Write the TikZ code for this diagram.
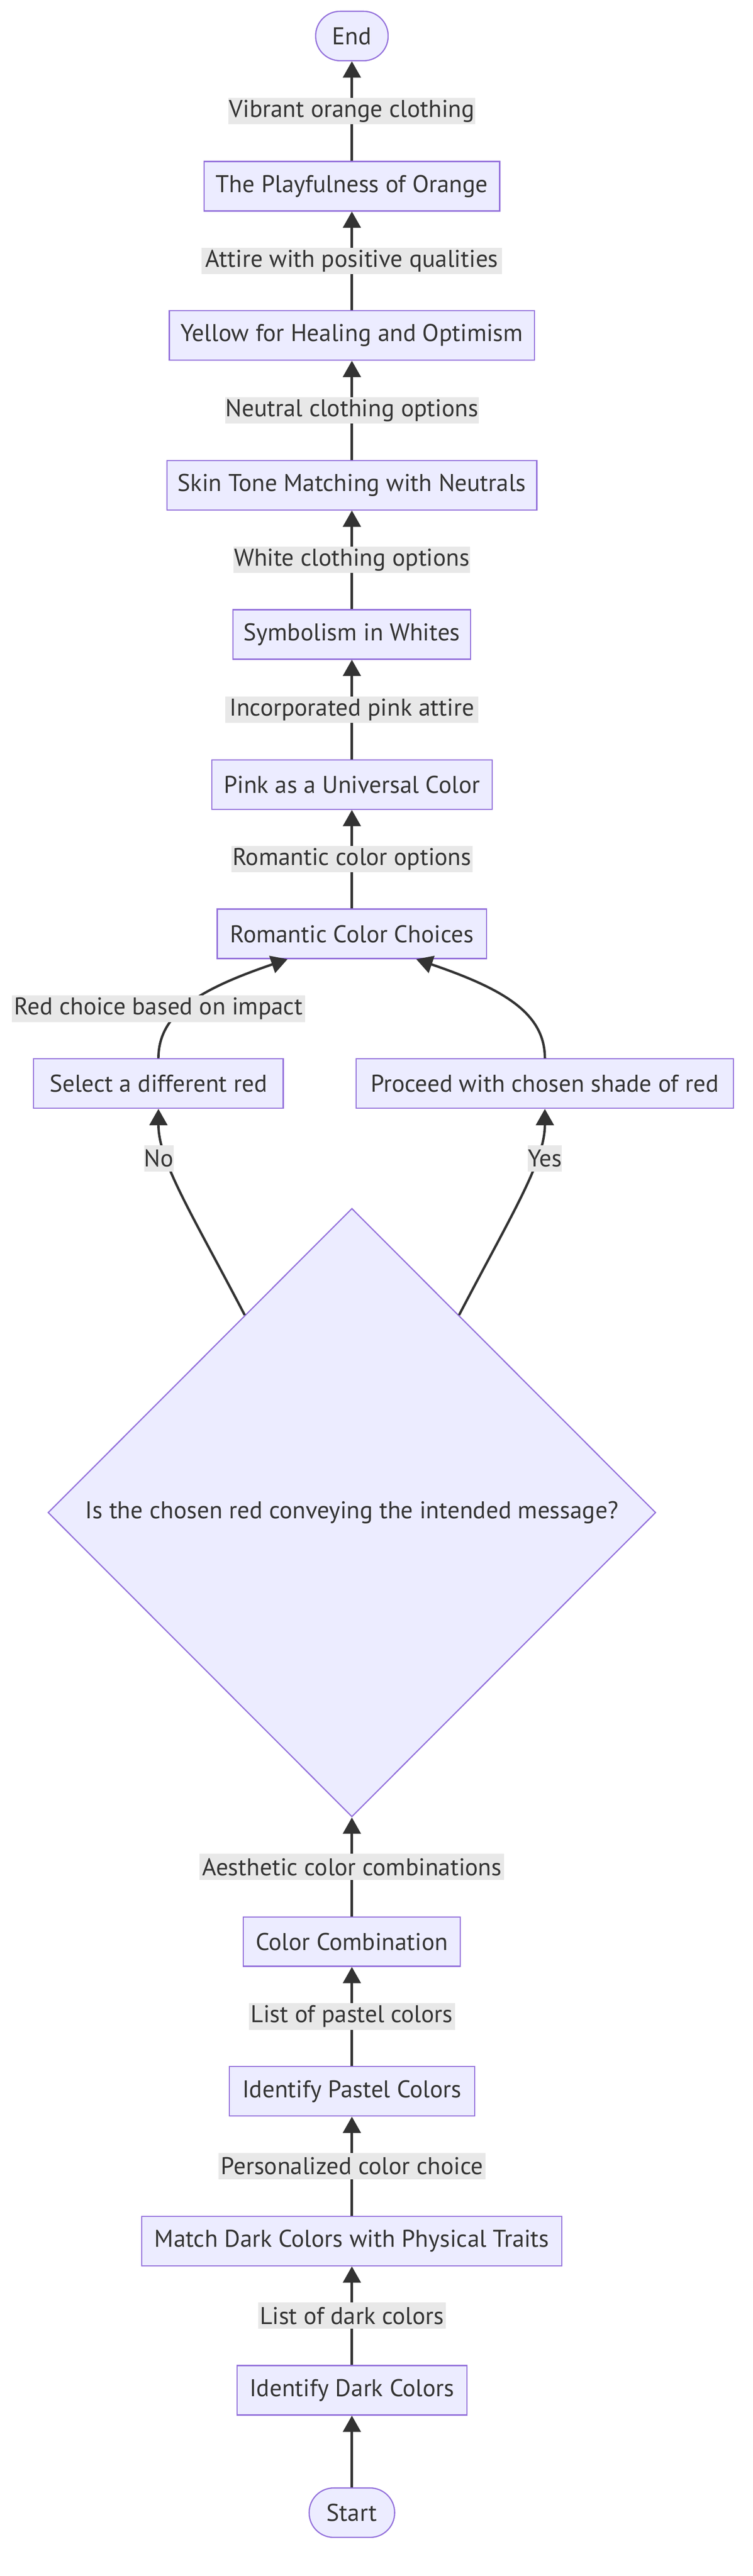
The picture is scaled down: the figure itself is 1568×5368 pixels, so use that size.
\documentclass[tikz,border=0pt]{standalone}
\usepackage{fontspec}
\setmainfont{PT Sans}
\usetikzlibrary{arrows.meta,shapes.geometric,calc}
\definecolor{nodefill}{HTML}{ECECFF}
\definecolor{nodeline}{HTML}{9370DB}
\definecolor{edgecol}{HTML}{333333}
\definecolor{labelbg}{HTML}{E8E8E8}
\definecolor{txtcol}{HTML}{333333}
\begin{document}
\begin{tikzpicture}[x=1pt,y=-1pt,
  every node/.style={font=\fontsize{50.5}{60}\selectfont, text=txtcol},
  box/.style={draw=nodeline, fill=nodefill, line width=2.5pt, minimum height=103pt, inner sep=0pt},
  term/.style={box, rounded corners=51pt},
  elabel/.style={fill=labelbg, inner xsep=0pt, inner ysep=0pt, minimum height=55pt},
  flow/.style={draw=edgecol, line width=5pt, -{Triangle[length=34pt,width=37pt]}},
  dec/.style={diamond, aspect=1, draw=nodeline, fill=nodefill, line width=2.5pt, minimum width=1266pt, minimum height=1268pt, inner sep=0pt}
]
\useasboundingbox[fill=white] (0,0) rectangle (1568,5368);

% nodes
\node[term, minimum width=151pt] (end) at (733,75) {End};
\node[box, minimum width=616pt] (orange) at (733,388) {The Playfulness of Orange};
\node[box, minimum width=761pt] (yellow) at (733,699) {Yellow for Healing and Optimism};
\node[box, minimum width=770pt] (skin) at (733,1011) {Skin Tone Matching with Neutrals};
\node[box, minimum width=495pt] (whites) at (733,1322) {Symbolism in Whites};
\node[box, minimum width=584pt] (pink) at (733,1635) {Pink as a Universal Color};
\node[box, minimum width=561pt] (romantic) at (733,1946) {Romantic Color Choices};
\node[box, minimum width=520pt] (select) at (330,2258) {Select a different red};
\node[box, minimum width=786pt] (proceed) at (1135,2258) {Proceed with chosen shade of red};
\node[dec] (decision) at (733,3152) {Is the chosen red conveying the intended message?};
\node[box, minimum width=452pt] (combo) at (733,4046) {Color Combination};
\node[box, minimum width=511pt] (pastel) at (733,4358) {Identify Pastel Colors};
\node[box, minimum width=875pt] (match) at (733,4670) {Match Dark Colors with Physical Traits};
\node[box, minimum width=479pt] (dark) at (733,4981) {Identify Dark Colors};
\node[term, minimum width=178pt] (start) at (733,5236) {Start};

% straight edges
\draw[flow] (start.north) -- (dark.south);
\draw[flow] (dark.north) -- node[elabel, minimum width=391pt] (l1) {List of dark colors} (match.south);
\draw[flow] (match.north) -- node[elabel, minimum width=556pt] (l2) {Personalized color choice} (pastel.south);
\draw[flow] (pastel.north) -- node[elabel, minimum width=429pt] (l3) {List of pastel colors} (combo.south);
\draw[flow] (combo.north) -- node[elabel, minimum width=635pt] (l4) {Aesthetic color combinations} (decision.south);
\draw[flow] (romantic.north) -- node[elabel, minimum width=502pt] (l5) {Romantic color options} (pink.south);
\draw[flow] (pink.north) -- node[elabel, minimum width=527pt] (l6) {Incorporated pink attire} (whites.south);
\draw[flow] (whites.north) -- node[elabel, minimum width=493pt] (l7) {White clothing options} (skin.south);
\draw[flow] (skin.north) -- node[elabel, minimum width=528pt] (l8) {Neutral clothing options} (yellow.south);
\draw[flow] (yellow.north) -- node[elabel, minimum width=626pt] (l9) {Attire with positive qualities} (orange.south);
\draw[flow] (orange.north) -- node[elabel, minimum width=514pt] (l10) {Vibrant orange clothing} (end.south);

% decision branches
\coordinate (dNo) at ($(decision.north)!0.352!(decision.west)$);
\coordinate (dYes) at ($(decision.north)!0.352!(decision.east)$);
\draw[flow] (dNo) .. controls (400,2530) and (330,2420) .. (select.south);
\draw[flow] (dYes) .. controls (1066,2530) and (1135,2420) .. (proceed.south);
\draw[flow] (select.north) .. controls (330,2110) and (420,2060) .. ($(romantic.south)+(-134,0)$);
\draw[flow] (proceed.north) .. controls (1135,2110) and (1046,2060) .. ($(romantic.south)+(134,0)$);

% branch labels
\node[elabel, minimum width=58pt] (lno) at (331,2414) {No};
\node[elabel, minimum width=68pt] (lyes) at (1135,2414) {Yes};
\node[elabel, minimum width=611pt] (lred) at (330,2102) {Red choice based on impact};
\end{tikzpicture}
\end{document}
